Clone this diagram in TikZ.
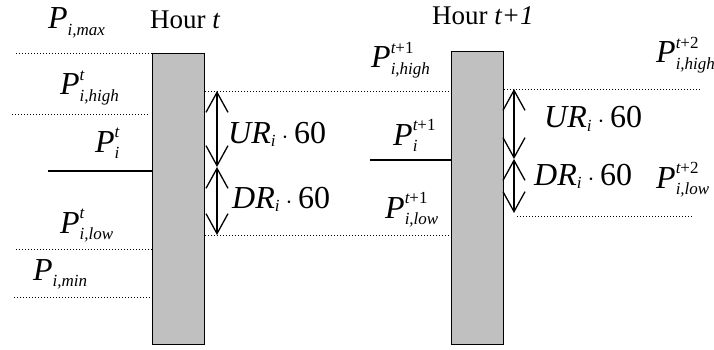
\documentclass[tikz,border=0pt]{standalone}
\usepackage{amsmath}
\usepackage{fontspec}
\setmainfont{Liberation Serif}
\DeclareMathSizes{32}{32}{17}{13}
\usetikzlibrary{arrows.meta}
\definecolor{barfill}{RGB}{192,192,192}
\newcommand{\pvar}[2]{$\textit{P}^{#2}_{\textit{#1}}$}
\begin{document}
\begin{tikzpicture}[x=1pt,y=-1pt,>={Straight Barb[length=20pt,width=22pt]},
  bar/.style={draw,line width=1.3pt,fill=barfill,minimum width=52pt,anchor=north west,inner sep=0},
  dotline/.style={line width=0.9pt,dash pattern=on 1pt off 2pt},
  powline/.style={line width=1.8pt},
  lbl/.style={inner sep=0,anchor=base west,font=\fontsize{32}{34}\selectfont},
  hour/.style={inner sep=0,anchor=base west,font=\fontsize{27}{29}\selectfont},
  ramp/.style={<->,line width=1.3pt}]
\useasboundingbox (0,0) rectangle (714,350);
% bars
\node[bar, minimum height=291pt] (bar1) at (152,53) {};
\node[bar, minimum height=293pt] (bar2) at (451,51) {};
% hour t
\node[hour] (hour1) at (150,29) {Hour \textit{t}};
\node[lbl] (pmax) at (48,29) {\pvar{i,max}{}};
\node[lbl] (phigh1) at (60,95) {\pvar{i,high}{\textit{t}}};
\node[lbl] (pset1) at (95,152) {\pvar{i}{\textit{t}}};
\node[lbl] (plow1) at (60,233) {\pvar{i,low}{\textit{t}}};
\node[lbl] (pmin) at (33,280) {\pvar{i,min}{}};
\node[lbl] (up1) at (228,143) {$\textit{UR}_{\textit{i}}\cdot\text{60}$};
\node[lbl] (down1) at (232,208) {$\textit{DR}_{\textit{i}}\cdot\text{60}$};
% hour t+1
\node[hour] (hour2) at (432,25) {Hour \textit{t+1}};
\node[lbl] (phigh2) at (371,68) {\pvar{i,high}{\textit{t}\text{+1}}};
\node[lbl] (pset2) at (393,145) {\pvar{i}{\textit{t}\text{+1}}};
\node[lbl] (plow2) at (385,218) {\pvar{i,low}{\textit{t}\text{+1}}};
\node[lbl] (up2) at (544,128) {$\textit{UR}_{\textit{i}}\cdot\text{60}$};
\node[lbl] (down2) at (534,185) {$\textit{DR}_{\textit{i}}\cdot\text{60}$};
\node[lbl] (phigh3) at (656,63) {\pvar{i,high}{\textit{t}\text{+2}}};
\node[lbl] (plow3) at (656,188) {\pvar{i,low}{\textit{t}\text{+2}}};
% levels
\coordinate (maxL) at (16,53);
\coordinate (highL) at (12,114);
\coordinate (highR) at (148,114);
\coordinate (setL1) at (48,171);
\coordinate (lowL) at (16,249);
\coordinate (minL) at (14,297);
\coordinate (setL2) at (370,160);
\coordinate (high3R) at (700,89);
\coordinate (low3L) at (517,216);
\coordinate (low3R) at (693,216);
\draw[dotline] (maxL) -- (maxL -| bar1.west);
\draw[dotline] (highL) -- (highR);
\draw[dotline] (lowL) -- (lowL -| bar1.west);
\draw[dotline] (minL) -- (minL -| bar1.west);
\draw[powline] (setL1) -- (setL1 -| bar1.west);
\draw[powline] (setL2) -- (setL2 -| bar2.west);
% ramps
\coordinate (hi1) at (217,91);
\coordinate (mid1) at (217,167);
\coordinate (lo1) at (217,235);
\coordinate (hi2) at (514,89);
\coordinate (mid2) at (514,159);
\coordinate (lo2) at (514,213);
\draw[dotline] (hi1 -| bar1.east) -- (hi1 -| bar2.west);
\draw[dotline] (lo1 -| bar1.east) -- (lo1 -| bar2.west);
\draw[dotline] (hi2 -| bar2.east) -- (high3R);
\draw[dotline] (low3L) -- (low3R);
\draw[ramp] (hi1) -- (mid1);
\draw[ramp] (mid1) -- (lo1);
\draw[ramp] (hi2) -- (mid2);
\draw[ramp] (mid2) -- (lo2);
\end{tikzpicture}
\end{document}
